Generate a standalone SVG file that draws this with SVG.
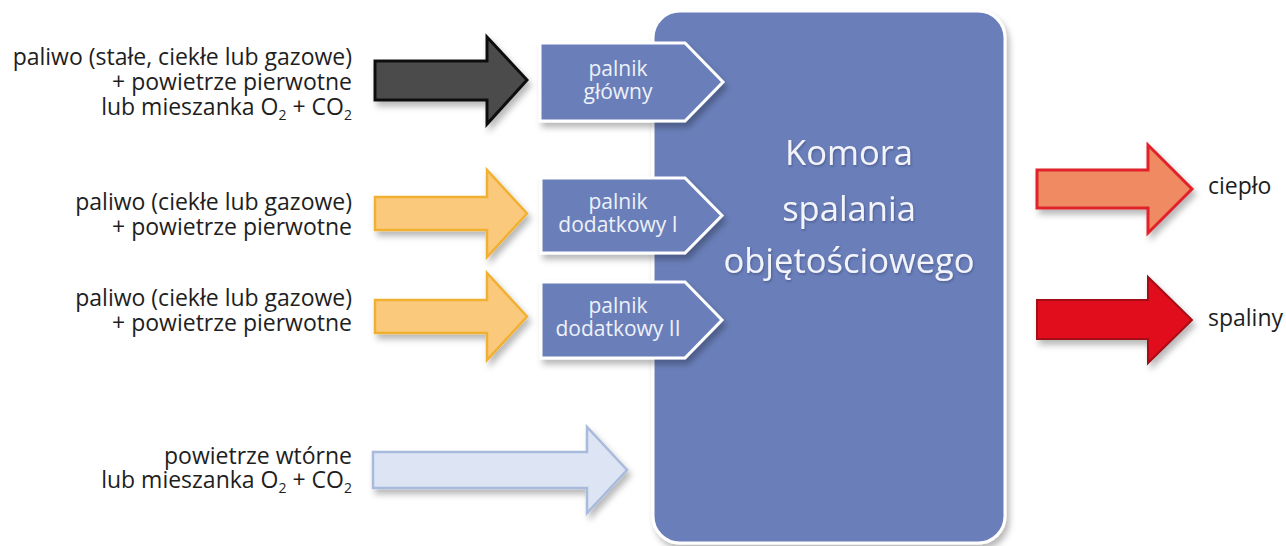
<svg xmlns="http://www.w3.org/2000/svg" width="1286" height="546" viewBox="0 0 1286 546">
<style>
.lbl{font-family:"Open Sans","Noto Sans",sans-serif;font-size:23px;fill:#1e1e1e;text-anchor:end}
.lblr{font-family:"Open Sans","Noto Sans",sans-serif;font-size:23px;fill:#1e1e1e}
.sub{font-size:14px}
.brn{font-family:"Open Sans","Noto Sans",sans-serif;font-size:21px;fill:#eef1f8;text-anchor:middle}
.ttl{font-family:"Open Sans","Noto Sans",sans-serif;font-size:34.5px;fill:#f2f4fa;text-anchor:middle}
.box{fill:#6a7fba;stroke:#ffffff;stroke-width:3;stroke-linejoin:miter}
.arr{stroke-linejoin:miter}
</style>
<defs>
<filter id="sh" x="-10%" y="-10%" width="130%" height="140%">
<feDropShadow dx="3" dy="5" stdDeviation="3" flood-color="#000" flood-opacity="0.28"/>
</filter>
<filter id="tsh" x="-5%" y="-20%" width="110%" height="150%">
<feDropShadow dx="1" dy="1.5" stdDeviation="1" flood-color="#2a3560" flood-opacity="0.45"/>
</filter>
</defs>

<g id="komora">
<rect class="box" x="653" y="11" width="352" height="532" rx="27" ry="27" filter="url(#sh)"/>
<g filter="url(#tsh)">
<text class="ttl" x="849" y="165">Komora</text>
<text class="ttl" x="849" y="221">spalania</text>
<text class="ttl" x="849" y="273">objętościowego</text>
</g>
</g>

<g id="palnik-glowny">
<polygon class="box" points="540,43 685,43 723,82 685,121 540,121" filter="url(#sh)"/>
<text class="brn" x="618" y="76">palnik</text>
<text class="brn" x="618" y="99">główny</text>
</g>

<g id="palnik-dodatkowy-1">
<polygon class="box" points="541,178 685,178 722,215.5 685,253 541,253" filter="url(#sh)"/>
<text class="brn" x="618" y="209">palnik</text>
<text class="brn" x="618" y="232">dodatkowy I</text>
</g>

<g id="palnik-dodatkowy-2">
<polygon class="box" points="541,282 685,282 722,320 685,358 541,358" filter="url(#sh)"/>
<text class="brn" x="618" y="313">palnik</text>
<text class="brn" x="618" y="336">dodatkowy II</text>
</g>

<g id="connectors">
<polygon class="arr" points="375,61 487,61 487,37 527,80 487,124 487,100 375,100" fill="#4b4b4b" stroke="#111" stroke-width="3" filter="url(#sh)"/>
<polygon class="arr" points="375,197 487,197 487,170 527,213.5 487,257 487,230 375,230" fill="#fbc97b" stroke="#f0b132" stroke-width="2.5" filter="url(#sh)"/>
<polygon class="arr" points="375,300 487,300 487,273 527,316.5 487,360 487,333 375,333" fill="#fbc97b" stroke="#f0b132" stroke-width="2.5" filter="url(#sh)"/>
<polygon class="arr" points="373,452 587,452 587,427 627,470 587,513 587,488 373,488" fill="#dde4f4" stroke="#a8bbdc" stroke-width="2.5" filter="url(#sh)"/>
<polygon class="arr" points="1037,170 1148,170 1148,145 1192,189 1148,233 1148,208 1037,208" fill="#ef8a62" stroke="#e2232b" stroke-width="3" filter="url(#sh)"/>
<polygon class="arr" points="1037,300 1148,300 1148,277 1192,320 1148,363 1148,339 1037,339" fill="#e1101e" stroke="#a50f19" stroke-width="2" filter="url(#sh)"/>
</g>

<g id="label-paliwo-glowne">
<text class="lbl" x="352" y="65">paliwo (stałe, ciekłe lub gazowe)</text>
<text class="lbl" x="352" y="90">+ powietrze pierwotne</text>
<text class="lbl" x="352" y="115">lub mieszanka O<tspan class="sub" dy="5">2</tspan><tspan dy="-5"> + CO</tspan><tspan class="sub" dy="5">2</tspan></text>
</g>
<g id="label-paliwo-1">
<text class="lbl" x="352" y="210">paliwo (ciekłe lub gazowe)</text>
<text class="lbl" x="352" y="235">+ powietrze pierwotne</text>
</g>
<g id="label-paliwo-2">
<text class="lbl" x="352" y="306">paliwo (ciekłe lub gazowe)</text>
<text class="lbl" x="352" y="331">+ powietrze pierwotne</text>
</g>
<g id="label-powietrze-wtorne">
<text class="lbl" x="352" y="464">powietrze wtórne</text>
<text class="lbl" x="352" y="488">lub mieszanka O<tspan class="sub" dy="5">2</tspan><tspan dy="-5"> + CO</tspan><tspan class="sub" dy="5">2</tspan></text>
</g>
<g id="label-cieplo">
<text class="lblr" x="1208" y="194">ciepło</text>
</g>
<g id="label-spaliny">
<text class="lblr" x="1208" y="326">spaliny</text>
</g>
</svg>
